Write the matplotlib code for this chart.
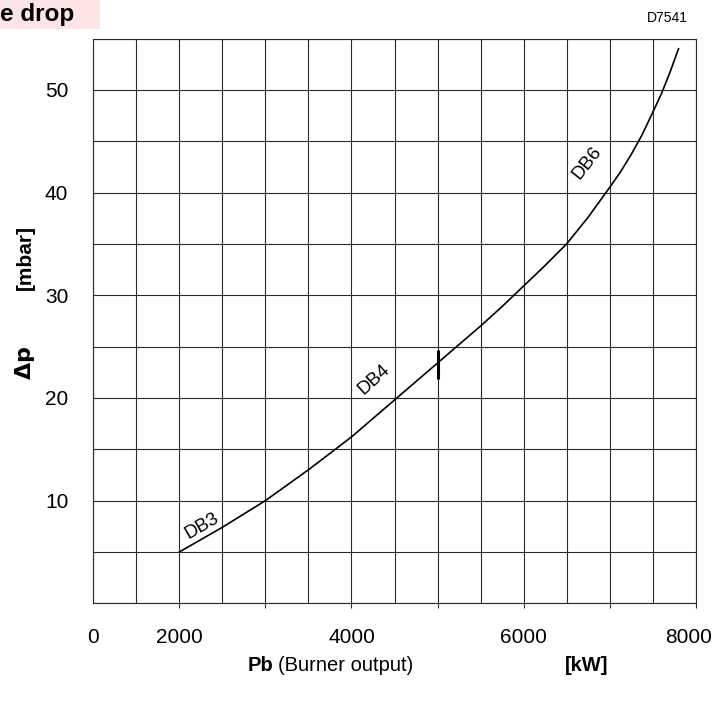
import matplotlib
matplotlib.use("Agg")
import matplotlib.pyplot as plt
from matplotlib.patches import Rectangle
from matplotlib.transforms import ScaledTranslation

plt.rcParams['font.family'] = ['Liberation Sans', 'DejaVu Sans']

# Pressure drop curve of the burner head (DB3 .. DB6)
output_kw = [2000, 2250, 2500, 2750, 3000, 3250, 3500, 3750, 4000, 4250,
             4500, 4750, 5000, 5250, 5500, 5750, 6000, 6250, 6500, 6750,
             7000, 7125, 7250, 7375, 7500, 7600, 7700, 7800]
dp_mbar = [5.0, 6.2, 7.4, 8.7, 10.0, 11.5, 13.0, 14.6, 16.2, 18.0,
           19.8, 21.6, 23.4, 25.2, 27.0, 28.9, 30.9, 32.9, 35.0, 37.6,
           40.5, 42.0, 43.7, 45.6, 47.8, 49.6, 51.7, 54.0]

# Change-over mark between DB4 and DB6
switch_kw = 5000
switch_range = [21.8, 24.7]

# Curve section labels: (text, x, y, angle)
section_labels = ["DB3", "DB4", "DB6"]
section_x = [2260, 4260, 6740]
section_y = [7.5, 21.8, 42.9]
section_rot = [30, 42, 52]

# Axis: left edge stands for 0 kW (scale broken below 2000 kW)
x_min, x_max = 1000, 8000
y_min, y_max = 0, 55
x_tick_pos = [1000, 2000, 3000, 4000, 5000, 6000, 7000, 8000]
x_tick_lbl = ["0", "2000", "", "4000", "", "6000", "", "8000"]
y_tick_pos = [10, 20, 30, 40, 50]
y_tick_lbl = ["10", "20", "30", "40", "50"]

fig = plt.figure(figsize=(7.16, 7.07), dpi=100)
ax = fig.add_axes([0.1303, 0.1467, 0.8414, 0.7988])

grid_c = '#2a2a2a'
for gx in range(x_min, x_max + 1, 500):
    ax.axvline(gx, color=grid_c, lw=0.8, zorder=1)
for gy in range(y_min, y_max + 1, 5):
    ax.axhline(gy, color=grid_c, lw=0.8, zorder=1)

ax.plot(output_kw, dp_mbar, color='black', lw=1.2, zorder=3)
ax.plot([switch_kw, switch_kw], switch_range, color='black', lw=2.2,
        solid_capstyle='butt', zorder=4)

for t, x, y, r in zip(section_labels, section_x, section_y, section_rot):
    ax.text(x, y, t, rotation=r, ha='center', va='center', fontsize=13.5,
            rotation_mode='anchor', zorder=5)

ax.set_xlim(x_min, x_max)
ax.set_ylim(y_min, y_max)
for s in ax.spines.values():
    s.set_color(grid_c)
    s.set_linewidth(0.8)

ax.set_xticks(x_tick_pos)
ax.set_xticklabels(x_tick_lbl, fontsize=15)
ax.set_yticks(y_tick_pos)
ax.set_yticklabels(y_tick_lbl, fontsize=15)
ax.tick_params(axis='x', length=3.6, width=0.8, color=grid_c, pad=14)
ax.tick_params(axis='y', length=0, pad=18)
ax.xaxis.get_major_ticks()[0].tick1line.set_visible(False)

# keep the last kW label inside the figure
last_lbl = ax.xaxis.get_major_ticks()[-1].label1
last_lbl.set_transform(last_lbl.get_transform()
                       + ScaledTranslation(-0.07, 0, fig.dpi_scale_trans))

# Axis titles
fig.text(25 / 716, 1 - 363 / 707, r"$\mathbf{\Delta p}$", rotation=90,
         ha='center', va='center', fontsize=16, fontweight='bold')
fig.text(25 / 716, 1 - 258 / 707, "[mbar]", rotation=90,
         ha='center', va='center', fontsize=15, fontweight='bold')
fig.text(248 / 716, 1 - 671 / 707, "Pb", ha='left', va='baseline',
         fontsize=14.5, fontweight='bold')
fig.text(278 / 716, 1 - 671 / 707, "(Burner output)", ha='left', va='baseline',
         fontsize=14.5)
fig.text(565 / 716, 1 - 671 / 707, "[kW]", ha='left', va='baseline',
         fontsize=14.5, fontweight='bold')

# Header
fig.add_artist(Rectangle((0, 1 - 29 / 707), 100 / 716, 29 / 707,
                         transform=fig.transFigure, facecolor='#fde5e5',
                         edgecolor='none', zorder=0))
fig.text(0.0, 1 - 21 / 707, "e drop", ha='left', va='baseline',
         fontsize=17.5, fontweight='bold')
fig.text(688 / 716, 1 - 18 / 707, "D7541", ha='right', va='center', fontsize=10)

fig.savefig("out.png", dpi=100)
